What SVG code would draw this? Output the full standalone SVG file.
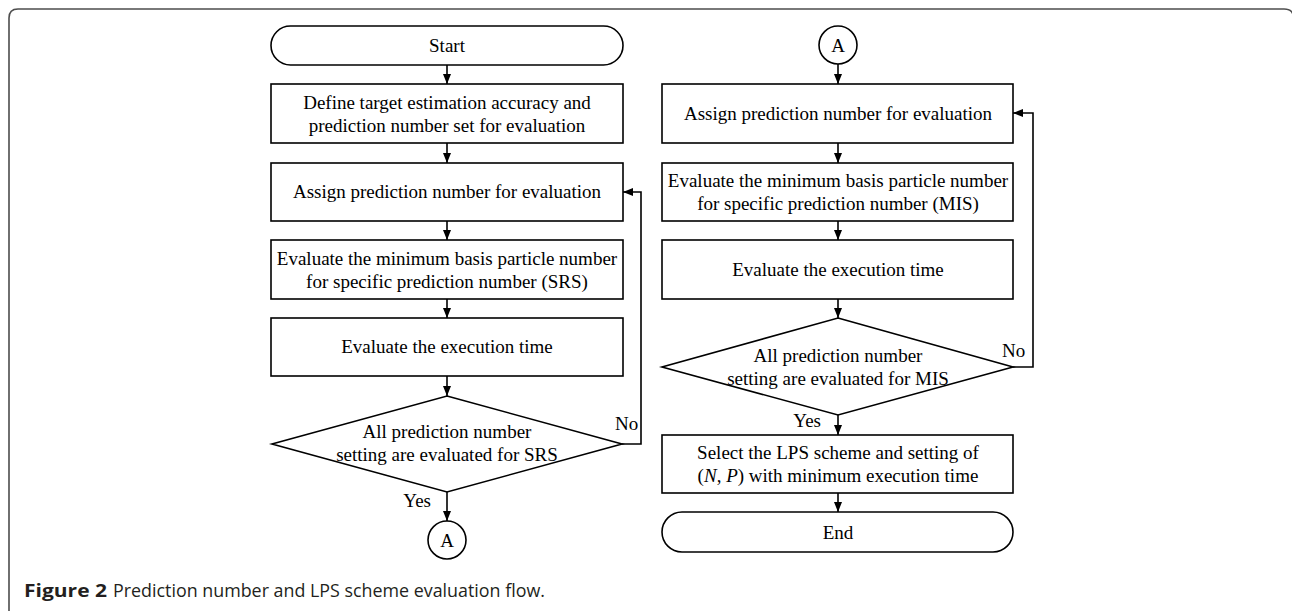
<svg xmlns="http://www.w3.org/2000/svg" width="1292" height="611" viewBox="0 0 1292 611">
<style>
.s{fill:#fff;stroke:#000;stroke-width:1.6}
.c{fill:none;stroke:#000;stroke-width:1.6}
.t{font-family:"Liberation Serif","Times New Roman",serif;font-size:19px;fill:#000;text-anchor:middle}
.l{font-family:"Liberation Serif","Times New Roman",serif;font-size:19px;fill:#000}
.cap{font-family:"Open Sans","Liberation Sans",sans-serif;font-size:18px;fill:#231f20}
</style>
<defs>
<marker id="ah" viewBox="0 0 10 10" refX="10" refY="5" markerWidth="10" markerHeight="10" markerUnits="userSpaceOnUse" orient="auto">
<path d="M0,1 L10,5 L0,9 Z" fill="#000"/>
</marker>
</defs>
<rect width="1292" height="611" fill="#fff"/>
<path d="M9,611 V18 Q9,9 18,9 H1284 Q1293.5,9 1293.5,18 V611" fill="none" stroke="#4d4d4d" stroke-width="1.6"/>

<g id="connectors">
<path class="c" d="M447,65 V84" marker-end="url(#ah)"/>
<path class="c" d="M447,143 V163" marker-end="url(#ah)"/>
<path class="c" d="M447,221 V240" marker-end="url(#ah)"/>
<path class="c" d="M447,299 V318" marker-end="url(#ah)"/>
<path class="c" d="M447,376 V396" marker-end="url(#ah)"/>
<path class="c" d="M447,492 V521" marker-end="url(#ah)"/>
<path class="c" d="M622,444 H641 V192 H623" marker-end="url(#ah)"/>
<path class="c" d="M838,64 V84" marker-end="url(#ah)"/>
<path class="c" d="M838,143 V163" marker-end="url(#ah)"/>
<path class="c" d="M838,221 V240" marker-end="url(#ah)"/>
<path class="c" d="M838,299 V318" marker-end="url(#ah)"/>
<path class="c" d="M838,415 V435" marker-end="url(#ah)"/>
<path class="c" d="M838,493 V512" marker-end="url(#ah)"/>
<path class="c" d="M1013,367 H1033 V113 H1013" marker-end="url(#ah)"/>
<text class="l" x="615" y="430">No</text>
<text class="l" x="431" y="507" text-anchor="end">Yes</text>
<text class="l" x="1002" y="357">No</text>
<text class="l" x="821" y="427" text-anchor="end">Yes</text>
</g>

<g id="start">
<rect class="s" x="271" y="26" width="352" height="39" rx="19.5"/>
<text class="t" x="447" y="52">Start</text>
</g>
<g id="define">
<rect class="s" x="271" y="84" width="352" height="59"/>
<text class="t" x="447" y="109">Define target estimation accuracy and</text>
<text class="t" x="447" y="132">prediction number set for evaluation</text>
</g>
<g id="assign1">
<rect class="s" x="271" y="163" width="352" height="58"/>
<text class="t" x="447" y="198">Assign prediction number for evaluation</text>
</g>
<g id="evalsrs">
<rect class="s" x="271" y="240" width="352" height="59"/>
<text class="t" x="447" y="265">Evaluate the minimum basis particle number</text>
<text class="t" x="447" y="288">for specific prediction number (SRS)</text>
</g>
<g id="exec1">
<rect class="s" x="271" y="318" width="352" height="58"/>
<text class="t" x="447" y="353">Evaluate the execution time</text>
</g>
<g id="decision1">
<path class="s" d="M447,396 L622,444 L447,492 L272,444 Z"/>
<text class="t" x="447" y="438">All prediction number</text>
<text class="t" x="447" y="461">setting are evaluated for SRS</text>
</g>
<g id="connA1">
<circle class="s" cx="447" cy="540" r="19"/>
<text class="t" x="447" y="547">A</text>
</g>

<g id="connA2">
<circle class="s" cx="838" cy="45" r="19"/>
<text class="t" x="838" y="52">A</text>
</g>
<g id="assign2">
<rect class="s" x="662" y="84" width="351" height="59"/>
<text class="t" x="838" y="120">Assign prediction number for evaluation</text>
</g>
<g id="evalmis">
<rect class="s" x="662" y="163" width="351" height="58"/>
<text class="t" x="838" y="187">Evaluate the minimum basis particle number</text>
<text class="t" x="838" y="210">for specific prediction number (MIS)</text>
</g>
<g id="exec2">
<rect class="s" x="662" y="240" width="351" height="59"/>
<text class="t" x="838" y="276">Evaluate the execution time</text>
</g>
<g id="decision2">
<path class="s" d="M838,318 L1013,367 L838,415 L662,367 Z"/>
<text class="t" x="838" y="362">All prediction number</text>
<text class="t" x="838" y="385">setting are evaluated for MIS</text>
</g>
<g id="select">
<rect class="s" x="662" y="435" width="351" height="58"/>
<text class="t" x="838" y="459">Select the LPS scheme and setting of</text>
<text class="t" x="838" y="482">(<tspan font-style="italic">N</tspan>, <tspan font-style="italic">P</tspan>) with minimum execution time</text>
</g>
<g id="end">
<rect class="s" x="662" y="512" width="351" height="40" rx="20"/>
<text class="t" x="838" y="539">End</text>
</g>

<g id="caption">
<text class="cap" x="24" y="597" font-weight="bold" textLength="83" lengthAdjust="spacingAndGlyphs">Figure 2</text>
<text class="cap" x="113" y="597" textLength="432" lengthAdjust="spacingAndGlyphs">Prediction number and LPS scheme evaluation flow.</text>
</g>
</svg>
